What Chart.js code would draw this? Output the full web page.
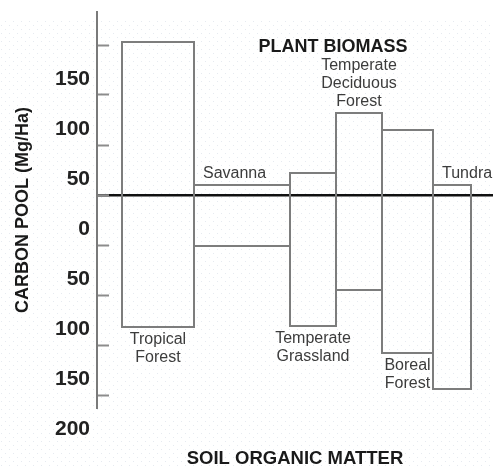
<!DOCTYPE html>
<html lang="en">
<head>
    <meta charset="UTF-8">
    <title>Carbon pool by biome</title>
    <script src="https://cdn.jsdelivr.net/npm/chart.js"></script>
    <style>
        body {
            margin: 0;
            background: #fff;
        }
        #wrap {
            width: 493px;
            height: 468px;
        }
    </style>
</head>
<body>
    <div id="wrap"><canvas id="carbonChart" width="493" height="468"></canvas></div>

    <script>
        // Biomes, left to right
        const biomes = ['Tropical Forest', 'Savanna', 'Temperate Grassland', 'Temperate Deciduous Forest', 'Boreal Forest', 'Tundra'];
        // Relative width of each column
        const biomeWidths = [72, 96, 46, 46, 51, 38];
        // Carbon above the line (plant biomass) and below it (soil organic matter)
        const plantBiomass = [153, 10, 22, 82, 65, 10];
        const soilOrganic = [132, 51, 131, 95, 158, 194];
        // Y axis ticks
        const yTicks = [150, 100, 50, 0, -50, -100, -150, -200];
        // Where each biome name sits: above or below its column
        const labelSide = ['bottom', 'top', 'bottom', 'top', 'bottom', 'top'];
        const labelAlign = ['center', 'left', 'center', 'center', 'center', 'left'];

        // Column edges from the widths
        const edges = [0];
        biomeWidths.forEach(w => edges.push(edges[edges.length - 1] + w));

        // One closed outline per biome
        const datasets = biomes.map((name, i) => {
            const x0 = edges[i], x1 = edges[i + 1];
            const hi = plantBiomass[i], lo = -soilOrganic[i];
            return {
                label: name,
                data: [
                    { x: x0, y: lo }, { x: x0, y: hi }, { x: x1, y: hi },
                    { x: x1, y: lo }, { x: x0, y: lo }
                ],
                showLine: true,
                borderColor: '#7d7d7d',
                borderWidth: 2,
                borderCapStyle: 'square',
                borderJoinStyle: 'miter',
                pointRadius: 0,
                fill: false,
                tension: 0
            };
        });

        // Faint dotted paper texture behind everything
        const dottedBackground = {
            id: 'dottedBackground',
            beforeDraw(chart) {
                const ctx = chart.ctx;
                const tile = document.createElement('canvas');
                tile.width = 8;
                tile.height = 8;
                const t = tile.getContext('2d');
                t.fillStyle = 'rgba(140, 160, 185, 0.22)';
                t.fillRect(1, 1, 1, 1);
                t.fillRect(5, 5, 1, 1);
                ctx.save();
                ctx.fillStyle = '#ffffff';
                ctx.fillRect(0, 0, chart.width, chart.height);
                ctx.fillStyle = ctx.createPattern(tile, 'repeat');
                ctx.fillRect(0, 20, chart.width, chart.height - 20);
                ctx.restore();
            }
        };

        // Biome names next to their columns, and the PLANT BIOMASS heading
        const biomeLabels = {
            id: 'biomeLabels',
            afterDatasetsDraw(chart) {
                const ctx = chart.ctx;
                const xs = chart.scales.x, ys = chart.scales.y;
                const lineH = 18;
                ctx.save();
                ctx.font = '16px "Liberation Sans", Arial, sans-serif';
                ctx.fillStyle = '#3c3c3c';
                ctx.textBaseline = 'middle';
                biomes.forEach((name, i) => {
                    const words = name === 'Temperate Deciduous Forest'
                        ? ['Temperate', 'Deciduous', 'Forest']
                        : name.split(' ');
                    let x;
                    if (labelAlign[i] === 'left') {
                        ctx.textAlign = 'left';
                        x = xs.getPixelForValue(edges[i]) + 9;
                    } else {
                        ctx.textAlign = 'center';
                        x = xs.getPixelForValue((edges[i] + edges[i + 1]) / 2);
                    }
                    if (labelSide[i] === 'top') {
                        const yTop = ys.getPixelForValue(plantBiomass[i]) - 11;
                        words.forEach((w, k) => {
                            ctx.fillText(w, x, yTop - (words.length - 1 - k) * lineH);
                        });
                    } else {
                        const yBot = ys.getPixelForValue(-soilOrganic[i]) + 13;
                        words.forEach((w, k) => {
                            ctx.fillText(w, x, yBot + k * lineH);
                        });
                    }
                });
                ctx.font = 'bold 18px "Liberation Sans", Arial, sans-serif';
                ctx.fillStyle = '#1a1a1a';
                ctx.textAlign = 'center';
                ctx.fillText('PLANT BIOMASS', chart.chartArea.left + 236, chart.chartArea.top + 35);
                ctx.restore();
            }
        };

        new Chart(document.getElementById('carbonChart'), {
            type: 'scatter',
            data: { datasets: datasets },
            plugins: [dottedBackground, biomeLabels],
            options: {
                responsive: false,
                animation: false,
                layout: { padding: { top: 12, right: 0, bottom: 0, left: 0 } },
                plugins: {
                    legend: { display: false },
                    tooltip: { enabled: false }
                },
                scales: {
                    x: {
                        type: 'linear',
                        min: -25,
                        max: 371,
                        ticks: { display: false },
                        grid: { display: false },
                        border: { display: false },
                        title: {
                            display: true,
                            text: 'SOIL ORGANIC MATTER',
                            color: '#1a1a1a',
                            font: { family: '"Liberation Sans", Arial, sans-serif', size: 18.5, weight: 'bold' },
                            padding: { top: 0, bottom: -2 }
                        },
                        afterFit: s => {
                            s.height = 60;
                            s.paddingLeft = 0;
                            s.paddingRight = 0;
                        }
                    },
                    y: {
                        type: 'linear',
                        min: -213,
                        max: 183,
                        afterBuildTicks: s => { s.ticks = yTicks.map(v => ({ value: v })); },
                        ticks: {
                            padding: 19,
                            labelOffset: 34,
                            color: '#222',
                            font: { family: '"Liberation Sans", Arial, sans-serif', size: 21, weight: 'bold' },
                            callback: v => String(Math.abs(v))
                        },
                        grid: {
                            tickLength: -12,
                            tickColor: '#8c8c8c',
                            tickWidth: 2,
                            color: c => (c.tick && c.tick.value === 0) ? '#111' : 'rgba(0,0,0,0)',
                            lineWidth: c => (c.tick && c.tick.value === 0) ? 2.5 : 1
                        },
                        border: { color: '#7a7a7a', width: 2 },
                        title: {
                            display: true,
                            text: 'CARBON POOL (Mg/Ha)',
                            color: '#1a1a1a',
                            font: { family: '"Liberation Sans", Arial, sans-serif', size: 18, weight: 'bold' },
                            padding: { top: 12, bottom: 0 }
                        },
                        afterFit: s => {
                            s.width = 97;
                            s.paddingTop = 0;
                            s.paddingBottom = 0;
                        }
                    }
                }
            }
        });
    </script>
</body>
</html>
